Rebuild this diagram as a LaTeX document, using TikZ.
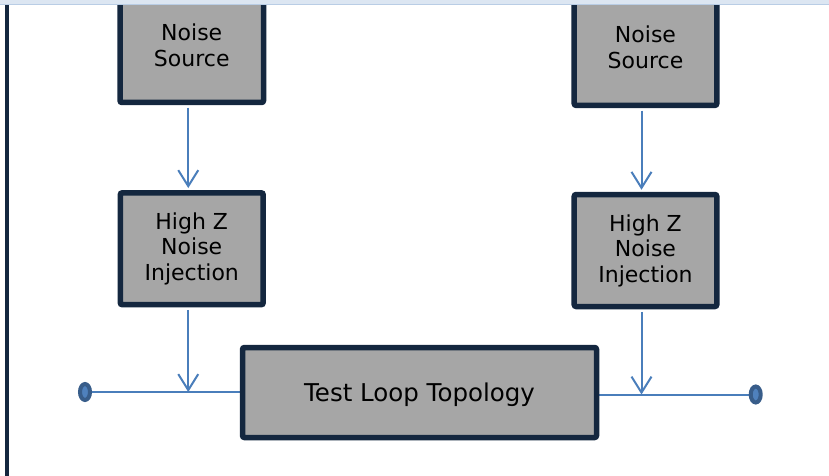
\documentclass[tikz,border=0pt]{standalone}
\usepackage{fontspec}
\setmainfont{DejaVu Sans}
\usetikzlibrary{arrows.meta,shapes.geometric,calc}
\definecolor{navy}{HTML}{14273F}
\definecolor{boxgray}{HTML}{A6A6A6}
\definecolor{linkblue}{HTML}{4A7EBB}
\definecolor{dotblue}{HTML}{385D8A}
\definecolor{dotin}{HTML}{4F81BD}
\definecolor{bandfill}{HTML}{DCE6F2}
\definecolor{bandedge}{HTML}{B9CDE5}
\begin{document}
\begin{tikzpicture}[x=1pt,y=-1pt,
  blk/.style={draw=navy, line width=5.5pt, fill=boxgray, rounded corners=2pt, align=center, inner sep=0pt, font=\fontsize{22}{25.5}\selectfont, text=black},
  link/.style={draw=linkblue, line width=2pt},
  arr/.style={link, shorten <=2.5pt, -{Straight Barb[length=16pt,width=20pt,line width=2pt]}},
  term/.style={ellipse, draw=dotblue, fill=dotin, line width=4pt, minimum width=10pt, minimum height=16pt, inner sep=0pt}]
\useasboundingbox (0,0) rectangle (829,476);
\clip (0,0) rectangle (829,476);
% terminal positions
\coordinate (dl) at (85,392);
\coordinate (dr) at (755.7,394.5);
% test loop block (outline first for the feed lines)
\path (419.5,392.5) coordinate (tlc);
\draw[link] (dl) -- (tlc |- dl) coordinate (dlend);
\draw[link] (tlc |- dr) -- (dr);
\node[blk, minimum width=354pt, minimum height=90pt, text depth=0pt, font=\fontsize{24.5}{29}\selectfont] (tl) at (tlc) {Test Loop Topology};
\node[blk, minimum width=143.5pt, minimum height=114pt] (ns1) at (191.75,45.5) {Noise\\Source};
\node[blk, minimum width=142.6pt, minimum height=115.8pt] (ns2) at (645.5,47.5) {Noise\\Source};
\node[blk, minimum width=142.9pt, minimum height=111.9pt] (hz1) at (191.75,248.75) {High Z\\Noise\\Injection};
\node[blk, minimum width=142.6pt, minimum height=112pt] (hz2) at (645.5,250.5) {High Z\\Noise\\Injection};
% terminals
\node[term] (tdl) at (dl) {};
\node[term] (tdr) at (dr) {};
% arrows
\coordinate (a1) at ([xshift=-3.5pt]ns1.south);
\coordinate (a2) at ([xshift=-4pt]ns2.south);
\coordinate (b1) at ([xshift=-3.5pt]hz1.south);
\coordinate (b2) at ([xshift=-4pt]hz2.south);
\draw[arr] (a1) -- ([yshift=2pt]a1 |- hz1.north);
\draw[arr] (a2) -- ([yshift=2pt]a2 |- hz2.north);
\draw[arr] (b1) -- (b1 |- dl);
\draw[arr] (b2) -- (b2 |- dr);
% top band and left rule
\fill[bandfill] (0,0) rectangle (829,4);
\draw[bandedge, line width=1.5pt] (0,4.5) -- (829,4.5);
\fill[navy] (5,5.2) rectangle (9,476);
\end{tikzpicture}
\end{document}
